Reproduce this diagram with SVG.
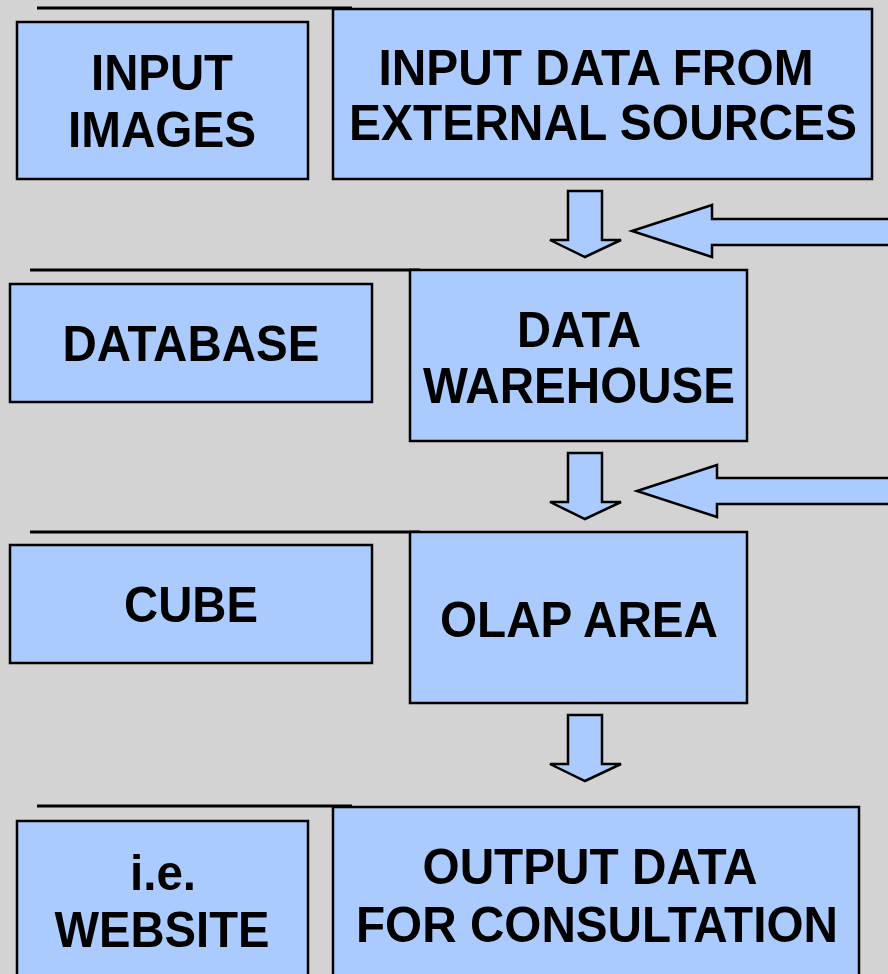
<svg xmlns="http://www.w3.org/2000/svg" width="888" height="974" viewBox="0 0 888 974">
<style>
.box{fill:#abcbfe;stroke:#000;stroke-width:2.5}
.rule{stroke:#000;stroke-width:3}
.arr{fill:#abcbfe;stroke:#000;stroke-width:2.5;stroke-linejoin:miter}
text{font-family:"Liberation Sans",Arial,sans-serif;font-weight:bold;font-size:50px;fill:#000;text-anchor:middle}
</style>
<rect x="0" y="0" width="888" height="974" fill="#d3d3d3"/>
<g id="rules">
<line class="rule" x1="37" y1="8" x2="352" y2="8"/>
<line class="rule" x1="30" y1="270" x2="420" y2="270"/>
<line class="rule" x1="30" y1="532" x2="420" y2="532"/>
<line class="rule" x1="37" y1="806" x2="352" y2="806"/>
</g>
<g id="input-images">
<rect class="box" x="17" y="22" width="291" height="157"/>
<text x="162" y="90" textLength="142" lengthAdjust="spacingAndGlyphs">INPUT</text>
<text x="162" y="147" textLength="188" lengthAdjust="spacingAndGlyphs">IMAGES</text>
</g>
<g id="input-data">
<rect class="box" x="333" y="9" width="539" height="170"/>
<text x="596" y="85" textLength="435" lengthAdjust="spacingAndGlyphs">INPUT DATA FROM</text>
<text x="603" y="140" textLength="508" lengthAdjust="spacingAndGlyphs">EXTERNAL SOURCES</text>
</g>
<g id="database">
<rect class="box" x="10" y="284" width="362" height="118"/>
<text x="191" y="361" textLength="257" lengthAdjust="spacingAndGlyphs">DATABASE</text>
</g>
<g id="data-warehouse">
<rect class="box" x="410" y="270" width="337" height="171"/>
<text x="579" y="347" textLength="124" lengthAdjust="spacingAndGlyphs">DATA</text>
<text x="579" y="403" textLength="312" lengthAdjust="spacingAndGlyphs">WAREHOUSE</text>
</g>
<g id="cube">
<rect class="box" x="10" y="545" width="362" height="118"/>
<text x="191" y="622" textLength="134" lengthAdjust="spacingAndGlyphs">CUBE</text>
</g>
<g id="olap-area">
<rect class="box" x="410" y="532" width="337" height="171"/>
<text x="579" y="637" textLength="278" lengthAdjust="spacingAndGlyphs">OLAP AREA</text>
</g>
<g id="website">
<rect class="box" x="17" y="821" width="291" height="170"/>
<text x="163" y="890" textLength="66" lengthAdjust="spacingAndGlyphs">i.e.</text>
<text x="162" y="947" textLength="215" lengthAdjust="spacingAndGlyphs">WEBSITE</text>
</g>
<g id="output-data">
<rect class="box" x="333" y="807" width="526" height="184"/>
<text x="590" y="884" textLength="335" lengthAdjust="spacingAndGlyphs">OUTPUT DATA</text>
<text x="597" y="942" textLength="482" lengthAdjust="spacingAndGlyphs">FOR CONSULTATION</text>
</g>
<g id="connectors">
<polygon class="arr" points="568,191 602,191 602,240 621,240 585,257 550,240 568,240"/>
<polygon class="arr" points="632,231 712,205 712,219 890,219 890,245 712,245 712,257"/>
<polygon class="arr" points="568,453 602,453 602,502 621,502 585,519 550,502 568,502"/>
<polygon class="arr" points="637,491 717,465 717,478 890,478 890,504 717,504 717,517"/>
<polygon class="arr" points="568,715 602,715 602,764 621,764 585,781 550,764 568,764"/>
</g>
</svg>
